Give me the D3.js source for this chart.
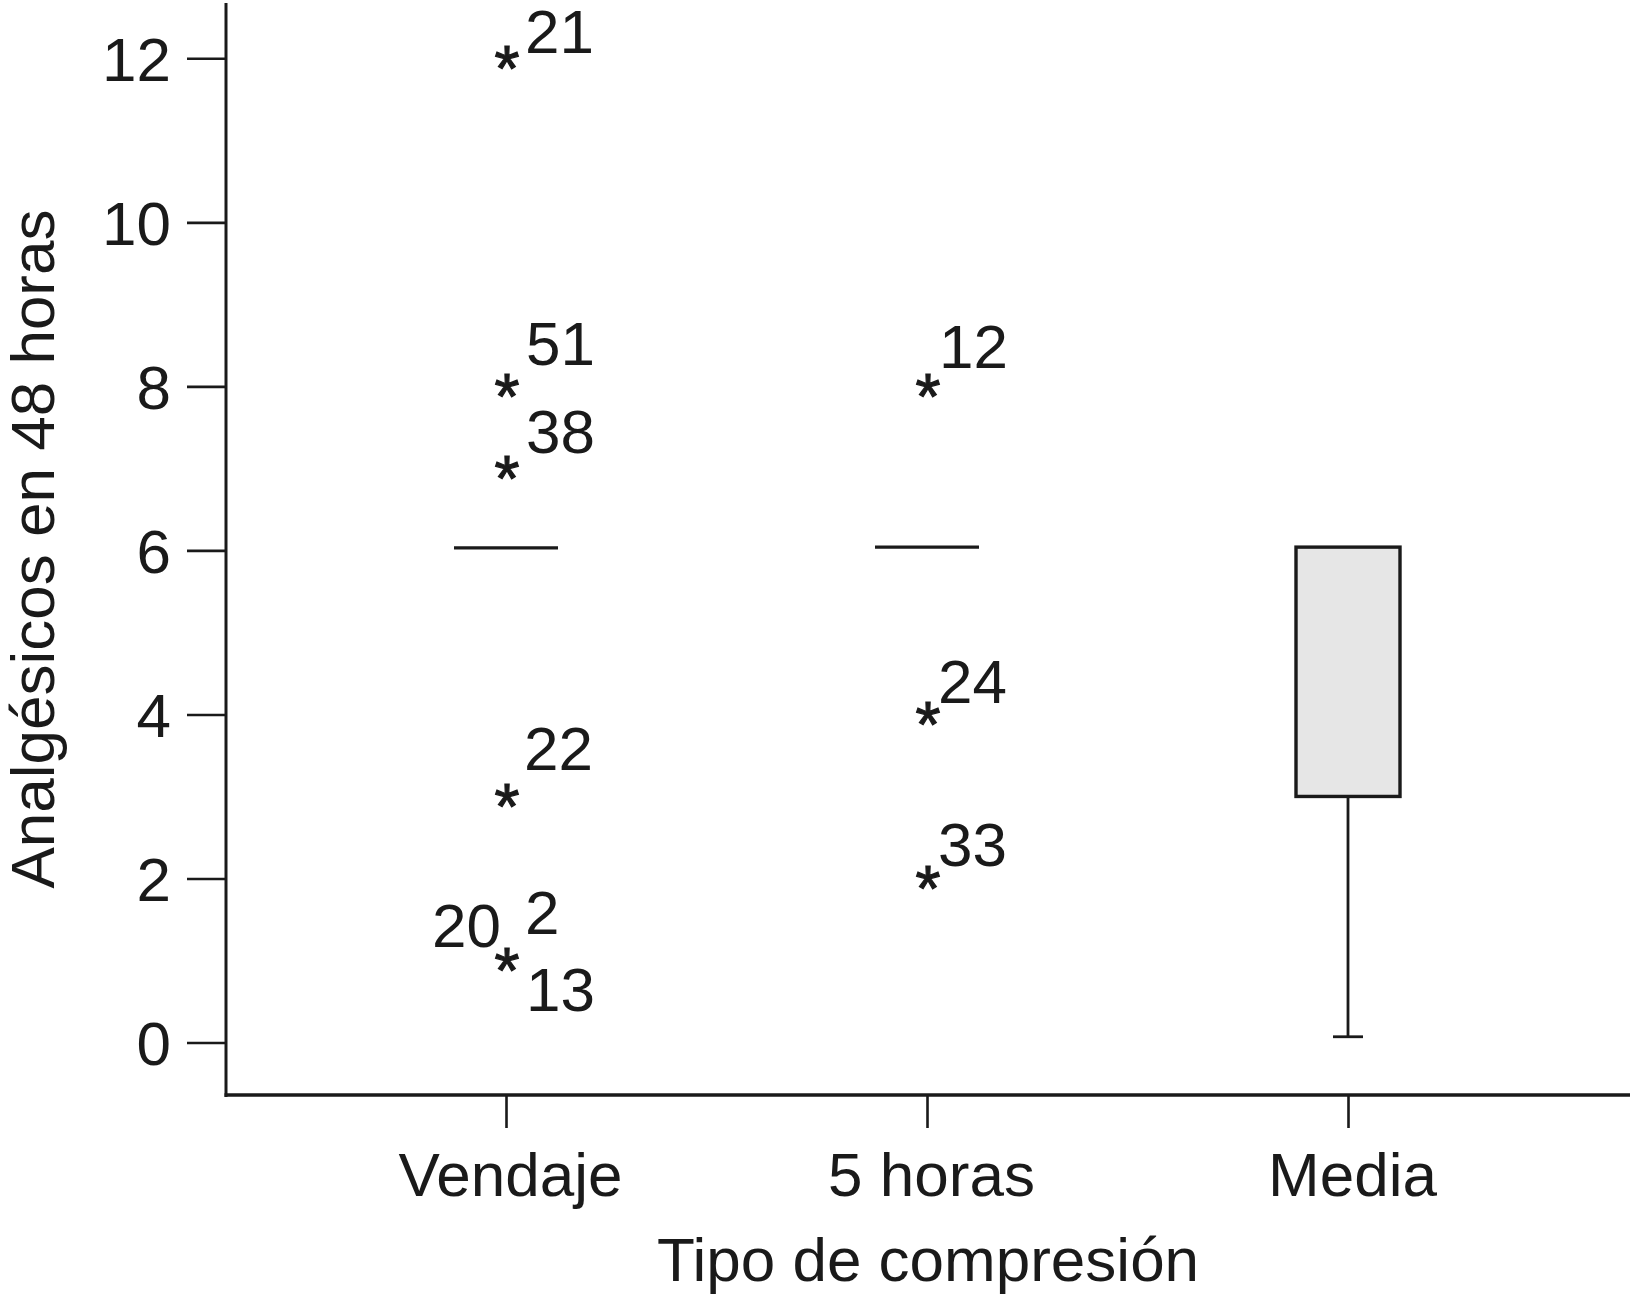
<!DOCTYPE html>
<html>
<head>
<meta charset="utf-8">
<script src="https://cdn.jsdelivr.net/npm/d3@7"></script>
<style>
  html, body { margin: 0; padding: 0; background: #fff; }
  svg { display: block; }
  text { font-family: "Liberation Sans", Arial, Helvetica, sans-serif; fill: #1a1a1a; }
</style>
</head>
<body>
<svg id="chart" width="1630" height="1302"></svg>
<script>
// ---------- data ----------
const categories = ["Vendaje", "5 horas", "Media"];
const yTicks = [0, 2, 4, 6, 8, 10, 12];

// degenerate boxes (median lines) for the first two groups
const medianValues = [6.03, 6.04];

// outliers (asterisks) and their case labels
const vendajeOutliers = [12, 8, 7, 3, 1];
const vendajeCases = [["21"], ["51"], ["38"], ["22"], ["2", "20", "13"]];
const horasOutliers = [8, 4, 2];
const horasCases = [["12"], ["24"], ["33"]];

// box for "Media"
const mediaQ1 = 3;
const mediaQ3 = 6.04;
const mediaWhiskerLow = 0.07;

const yTitle = "Analgésicos en 48 horas";
const xTitle = "Tipo de compresión";

// ---------- layout (pixel offsets of case labels, not data) ----------
const labelLayout = {
  "21": { dx: 19, dy: -5, anchor: "start" },
  "51": { dx: 20, dy: -21, anchor: "start" },
  "38": { dx: 20, dy: -15, anchor: "start" },
  "22": { dx: 18, dy: -26, anchor: "start" },
  "2":  { dx: 19, dy: -26, anchor: "start" },
  "20": { dx: -5, dy: -13, anchor: "end" },
  "13": { dx: 20, dy: 51, anchor: "start" },
  "12": { dx: 12, dy: -18, anchor: "start" },
  "24": { dx: 11, dy: -11, anchor: "start" },
  "33": { dx: 11, dy: -12, anchor: "start" }
};

const ink = "#1a1a1a";
const fontSize = 62;
const starSize = 64;
const svg = d3.select("#chart");

const x = d3.scalePoint().domain(categories).range([506, 1348]);
const y = d3.scaleLinear().domain([0, 12]).range([1042.5, 58.3]);

const axisX0 = 226, axisY0 = 1095;

// y axis ticks
const yAxis = d3.axisLeft(y).tickValues(yTicks).tickSize(39).tickPadding(16).tickFormat(d3.format("d"));
const gy = svg.append("g").attr("transform", `translate(${axisX0},0)`).call(yAxis);
gy.select(".domain").remove();
gy.selectAll(".tick line").attr("stroke", ink).attr("stroke-width", 2.6);
gy.selectAll(".tick text").attr("font-size", fontSize).attr("fill", ink).attr("dy", "0.36em");

// x axis ticks
const xAxis = d3.axisBottom(x).tickSize(33).tickPadding(24);
const gx = svg.append("g").attr("transform", `translate(0,${axisY0})`).call(xAxis);
gx.select(".domain").remove();
gx.selectAll(".tick line").attr("stroke", ink).attr("stroke-width", 2.6);
gx.selectAll(".tick text").attr("font-size", fontSize).attr("fill", ink).attr("dx", 4).attr("dy", "0.71em");

// axis lines
svg.append("line").attr("x1", axisX0).attr("x2", axisX0).attr("y1", 3).attr("y2", axisY0 + 2)
  .attr("stroke", ink).attr("stroke-width", 3);
svg.append("line").attr("x1", axisX0 - 1.5).attr("x2", 1630).attr("y1", axisY0).attr("y2", axisY0)
  .attr("stroke", ink).attr("stroke-width", 3.6);

const boxW = 104;

// median lines (degenerate boxes)
svg.selectAll("line.median").data(medianValues).enter().append("line")
  .attr("class", "median")
  .attr("x1", (d, i) => x(categories[i]) - boxW / 2)
  .attr("x2", (d, i) => x(categories[i]) + boxW / 2)
  .attr("y1", d => y(d)).attr("y2", d => y(d))
  .attr("stroke", ink).attr("stroke-width", 3.2);

// Media box + whisker
const mx = x("Media");
svg.append("line").attr("x1", mx).attr("x2", mx).attr("y1", y(mediaQ1)).attr("y2", y(mediaWhiskerLow))
  .attr("stroke", ink).attr("stroke-width", 2.8);
svg.append("line").attr("x1", mx - 15).attr("x2", mx + 15).attr("y1", y(mediaWhiskerLow)).attr("y2", y(mediaWhiskerLow))
  .attr("stroke", ink).attr("stroke-width", 2.8);
svg.append("rect")
  .attr("x", mx - boxW / 2).attr("width", boxW)
  .attr("y", y(mediaQ3)).attr("height", y(mediaQ1) - y(mediaQ3))
  .attr("fill", "#e6e6e6").attr("stroke", ink).attr("stroke-width", 3.4);

// outliers
const outlierGroups = [
  { cat: "Vendaje", values: vendajeOutliers, cases: vendajeCases },
  { cat: "5 horas", values: horasOutliers, cases: horasCases }
];
outlierGroups.forEach(g => {
  const cx = x(g.cat);
  g.values.forEach((v, i) => {
    svg.append("text")
      .attr("x", cx + 1).attr("y", y(v) + 2 + 0.48 * starSize)
      .attr("text-anchor", "middle").attr("font-size", starSize)
      .attr("stroke", ink).attr("stroke-width", 1.2)
      .text("*");
    g.cases[i].forEach(c => {
      const L = labelLayout[c];
      svg.append("text")
        .attr("x", cx + L.dx).attr("y", y(v) + L.dy)
        .attr("text-anchor", L.anchor).attr("font-size", fontSize)
        .text(c);
    });
  });
});

// titles
svg.append("text")
  .attr("x", (axisX0 + 1630) / 2).attr("y", 1281)
  .attr("text-anchor", "middle").attr("font-size", fontSize)
  .text(xTitle);
svg.append("text")
  .attr("transform", `translate(54, ${(3 + axisY0) / 2}) rotate(-90)`)
  .attr("text-anchor", "middle").attr("font-size", fontSize)
  .text(yTitle);
</script>
</body>
</html>
